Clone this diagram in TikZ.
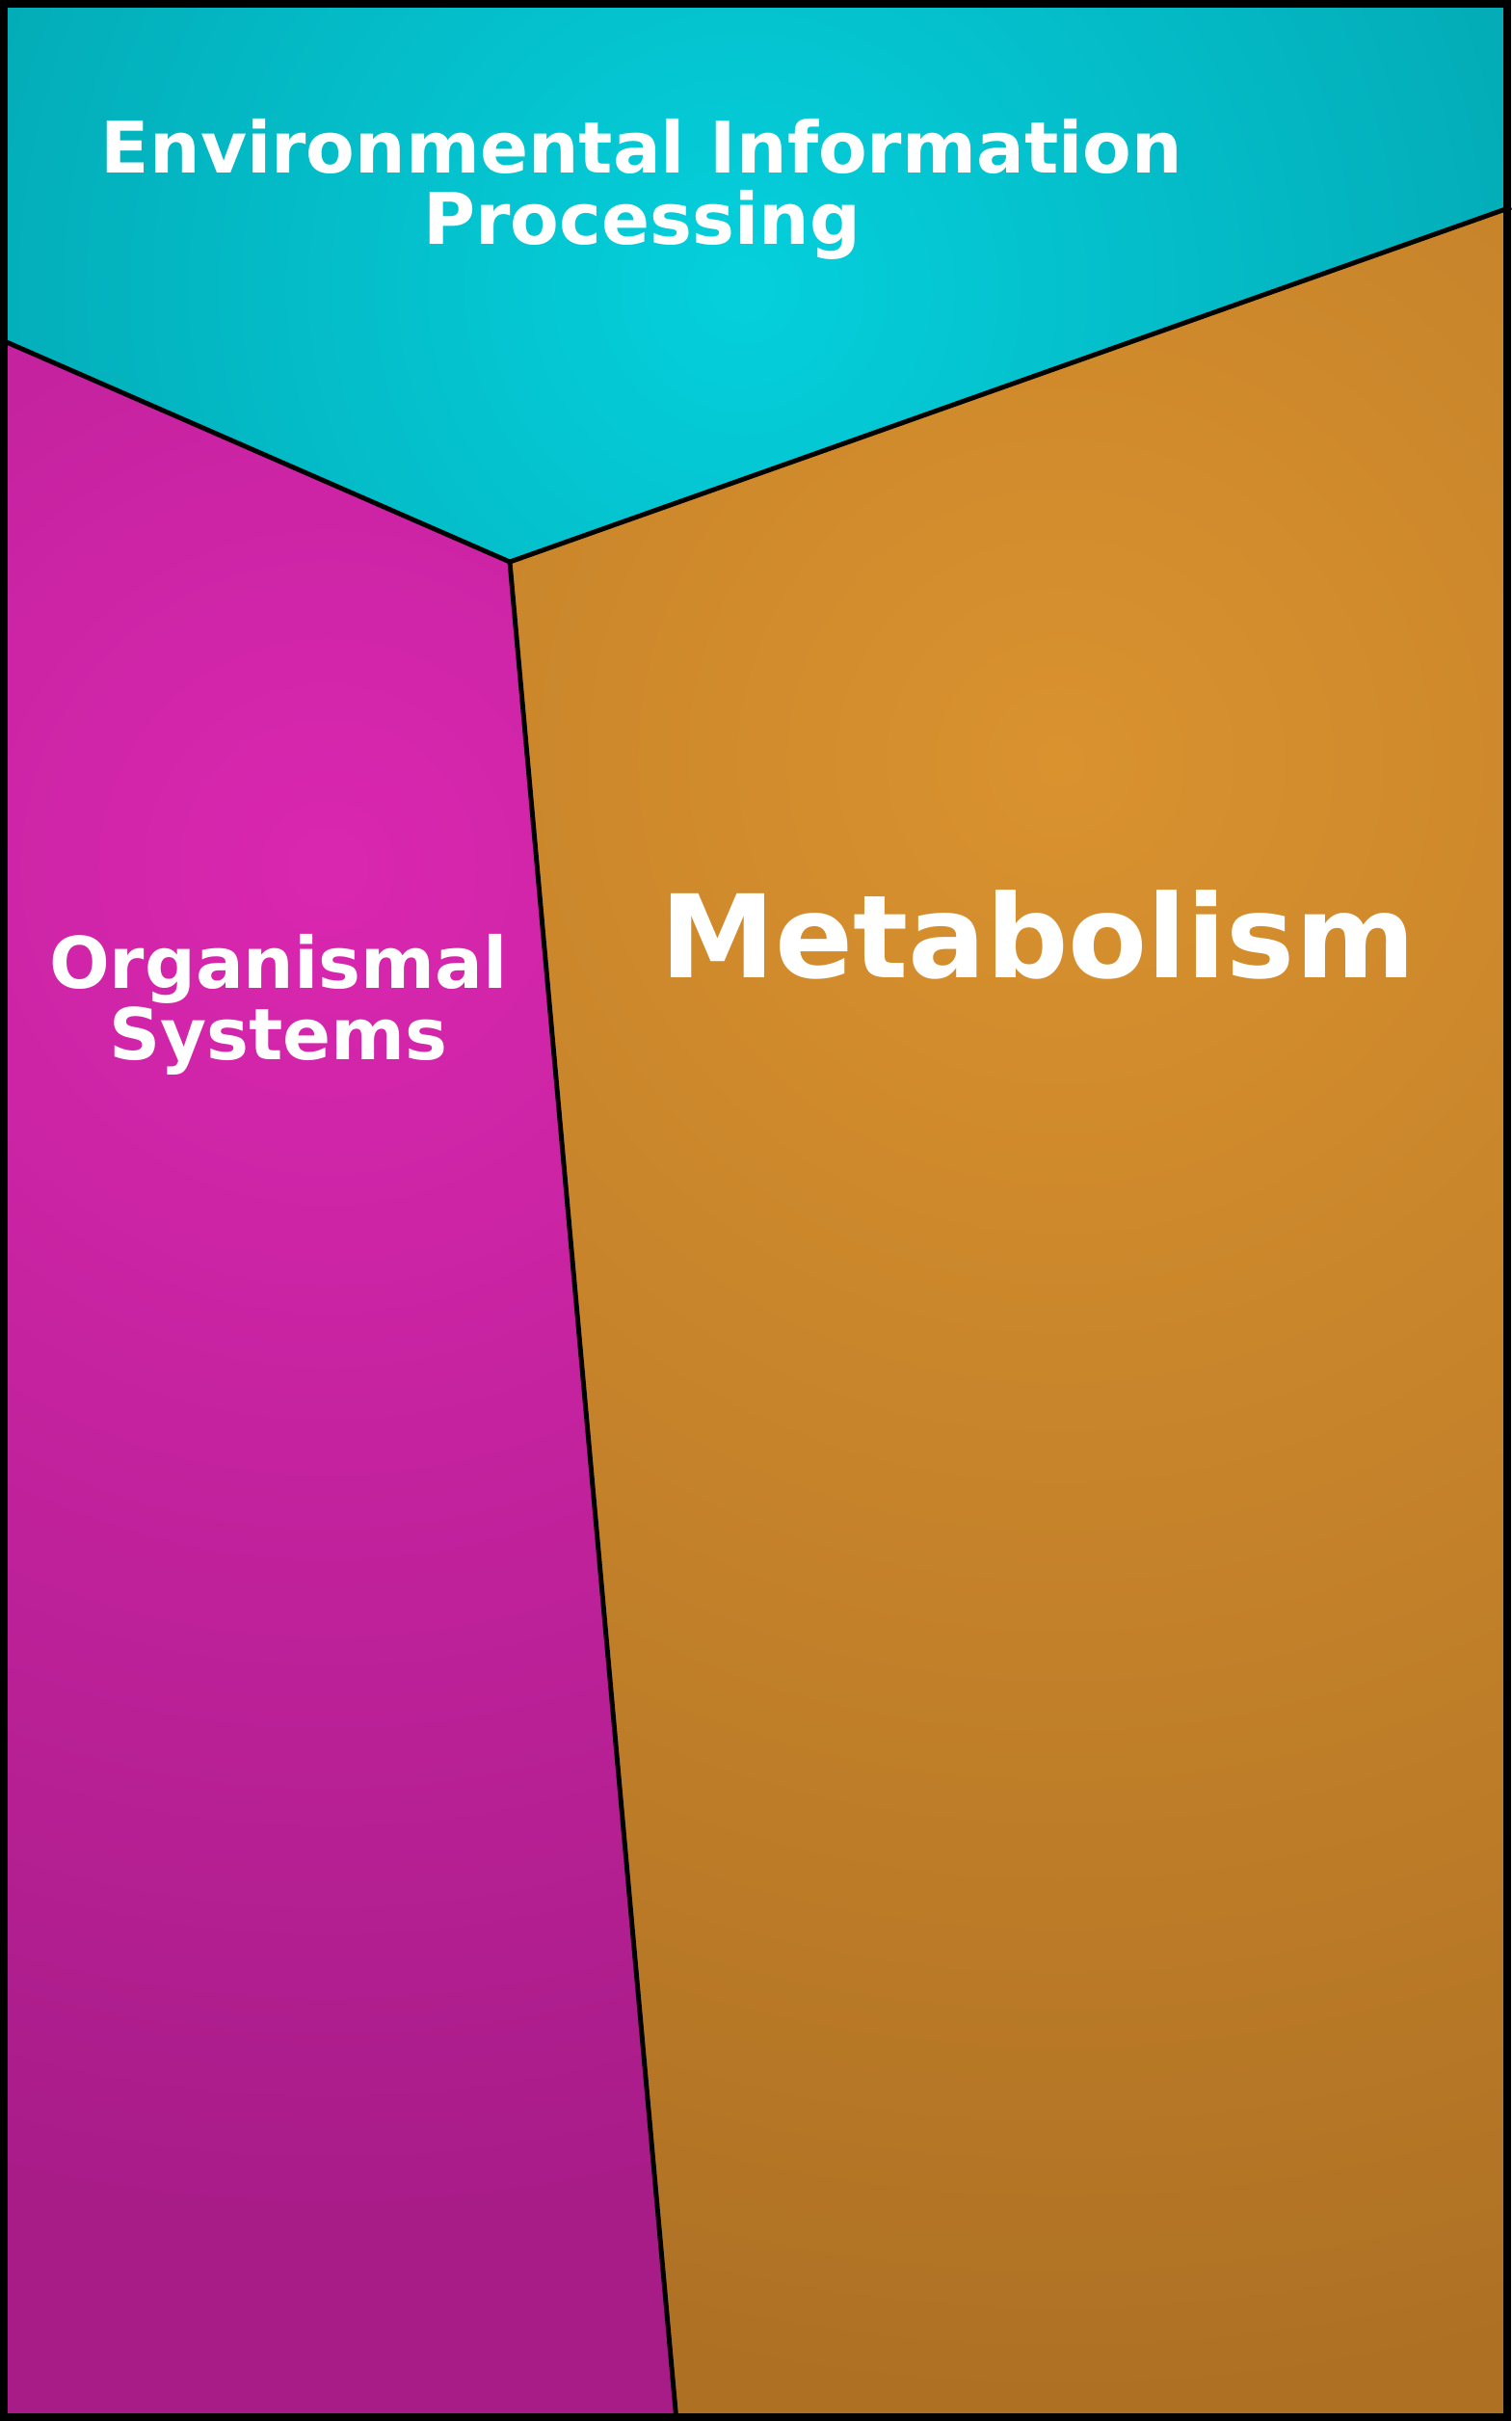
\documentclass[tikz,border=0pt]{standalone}
\usepackage{fontspec}
\setmainfont{DejaVu Sans}
\usetikzlibrary{positioning}
\definecolor{envIn}{HTML}{04D0DC}
\definecolor{envOut}{HTML}{03A9B4}
\definecolor{orgIn}{HTML}{DA27B0}
\definecolor{orgOut}{HTML}{A81C88}
\definecolor{metIn}{HTML}{DA922F}
\definecolor{metOut}{HTML}{AE7124}
\tikzset{
  label text/.style={text=white, font=\bfseries, align=center},
  split line/.style={line width=1.4pt, black}
}
\begin{document}
\begin{tikzpicture}[x=0.01cm, y=-0.01cm]
\useasboundingbox (0,0) rectangle (1568,2512);
% corner points of the regions
\coordinate (tl) at (0,0);
\coordinate (tr) at (1568,0);
\coordinate (bl) at (0,2512);
\coordinate (br) at (1568,2512);
\coordinate (lsplit) at (0,352);
\coordinate (rsplit) at (1568,215);
\coordinate (mid) at (529,583);
\coordinate (bsplit) at (702,2512);
% environmental region
\begin{scope}
\clip (tl) -- (tr) -- (rsplit) -- (mid) -- (lsplit) -- cycle;
\fill[envOut] (tl) rectangle (br);
\shade[inner color=envIn, outer color=envOut] (770,300) circle[radius=0.9cm*10];
\end{scope}
% organismal region
\begin{scope}
\clip (lsplit) -- (mid) -- (bsplit) -- (bl) -- cycle;
\fill[orgOut] (tl) rectangle (br);
\shade[inner color=orgIn, outer color=orgOut] (340,900) circle[radius=14cm];
\end{scope}
% metabolism region
\begin{scope}
\clip (mid) -- (rsplit) -- (br) -- (bsplit) -- cycle;
\fill[metOut] (tl) rectangle (br);
\shade[inner color=metIn, outer color=metOut] (1100,790) circle[radius=17cm];
\end{scope}
\draw[split line] (lsplit) -- (mid) -- (rsplit);
\draw[split line] (mid) -- (bsplit);
\draw[line width=2.4pt] (4,4) rectangle (1564,2508);
% labels
\node[label text, font=\bfseries\fontsize{21}{21}\selectfont] (env) at (666,196) {Environmental Information\\Processing};
\node[label text, font=\bfseries\fontsize{21}{21}\selectfont] (org) at (289,1042) {Organismal\\Systems};
\node[label text, font=\bfseries\fontsize{34}{34}\selectfont] (met) at (1077,970) {Metabolism};
\end{tikzpicture}
\end{document}
